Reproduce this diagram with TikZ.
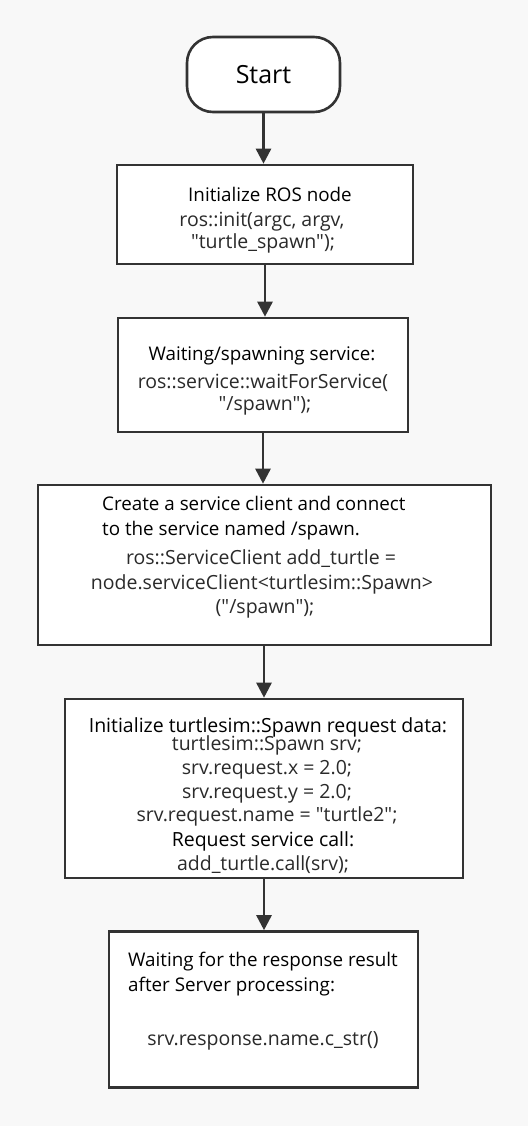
\documentclass[tikz,border=0pt]{standalone}
\usepackage{fontspec}
\setmainfont{Open Sans}[Ligatures=TeXOff]
\usetikzlibrary{arrows.meta,positioning}
\definecolor{linegray}{HTML}{333333}
\definecolor{bggray}{HTML}{F8F8F8}
\definecolor{inkgray}{HTML}{2A2A2A}

\tikzset{
  procbox/.style={draw=linegray, line width=2.6pt, fill=white, inner sep=0pt},
  termbox/.style={procbox, rounded corners=26pt},
  flow/.style={draw=linegray, line width=2.6pt, -{Triangle[width=15pt,length=15pt]}},
  txt/.style={inner sep=0pt, text=inkgray, text height=14pt, text depth=4pt, yshift=-3pt,
    font=\fontsize{19.5}{22}\selectfont},
  head/.style={txt, text=black, font=\fontsize{18.8}{22}\selectfont},
}

\begin{document}
\begin{tikzpicture}[x=1pt,y=-1pt]
  \useasboundingbox[fill=bggray] (0,0) rectangle (528,1126);

  % boxes
  \node[termbox, minimum width=153pt, minimum height=75pt] (start) at (263.5,74.5) {};
  \node[procbox, minimum width=296pt, minimum height=99pt] (init) at (265,214.5) {};
  \node[procbox, minimum width=290pt, minimum height=114pt] (wait) at (263,375) {};
  \node[procbox, minimum width=453pt, minimum height=160pt] (client) at (264.5,565) {};
  \node[procbox, minimum width=398pt, minimum height=179pt] (req) at (264,788.5) {};
  \node[procbox, minimum width=309pt, minimum height=156pt] (resp) at (263.5,1009.5) {};

  % texts
  \node[txt, text=black, font=\fontsize{25}{28}\selectfont] (start-t) at (263.5,76) {Start};

  \node[head] (init-t1) at (270,193) {Initialize ROS node};
  \node[txt] (init-t2) at (262,218) {ros::init(argc, argv,};
  \node[txt] (init-t3) at (263,240) {"turtle\_spawn");};

  \node[head] (wait-t1) at (262,352) {Waiting/spawning service:};
  \node[txt] (wait-t2) at (263,380) {ros::service::waitForService(};
  \node[txt] (wait-t3) at (265,402) {"/spawn");};

  \node[head, anchor=west] (client-t1) at (102,502) {Create a service client and connect};
  \node[head, anchor=west] (client-t2) at (102,527) {to the service named /spawn.};
  \node[txt] (client-t3) at (261,556) {ros::ServiceClient add\_turtle =};
  \node[txt] (client-t4) at (262,581) {node.serviceClient<turtlesim::Spawn>};
  \node[txt] (client-t5) at (265,605) {("/spawn");};

  \node[head, font=\fontsize{19.5}{22}\selectfont] (req-t1) at (268,724) {Initialize turtlesim::Spawn request data:};
  \node[txt] (req-t2) at (267,742) {turtlesim::Spawn srv;};
  \node[txt] (req-t3) at (267,766) {srv.request.x = 2.0;};
  \node[txt] (req-t4) at (267,790) {srv.request.y = 2.0;};
  \node[txt] (req-t5) at (267,813) {srv.request.name = "turtle2";};
  \node[head, font=\fontsize{19.5}{22}\selectfont] (req-t6) at (263,838) {Request service call:};
  \node[txt] (req-t7) at (263,862) {add\_turtle.call(srv);};

  \node[head, anchor=west] (resp-t1) at (128,958) {Waiting for the response result};
  \node[head, anchor=west] (resp-t2) at (128,983) {after Server processing:};
  \node[txt] (resp-t3) at (263,1037) {srv.response.name.c\_str()};

  % connectors
  \draw[flow] (start) -- (start |- init.north);
  \draw[flow] (init) -- (init |- wait.north);
  \draw[flow] (wait) -- (wait |- client.north);
  \draw[flow] (client.south -| req) -- (req);
  \draw[flow] (req) -- (req |- resp.north);
\end{tikzpicture}
\end{document}
